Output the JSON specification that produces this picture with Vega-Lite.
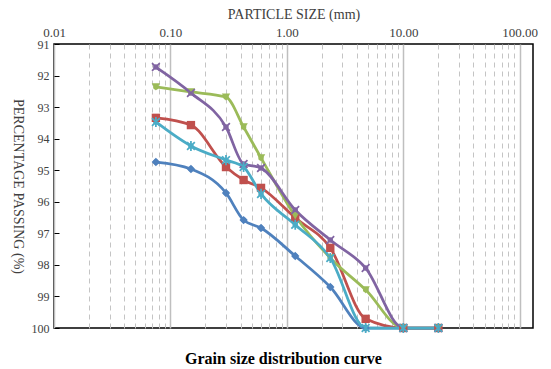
{
  "$schema": "https://vega.github.io/schema/vega-lite/v6.json",
  "width": 479,
  "height": 284,
  "autosize": {"type": "none"},
  "padding": {"left": 54, "top": 44, "right": 18, "bottom": 41},
  "background": "white",
  "config": {"view": {"stroke": "#000000", "strokeWidth": 1.5}, "font": "Liberation Serif"},
  "title": {"text": "Grain size distribution curve", "orient": "bottom", "font": "Liberation Serif", "fontSize": 16, "fontWeight": "bold", "color": "#000000", "offset": 14, "dx": -10},
  "data": {"values": [
    {"series": "S1", "size": 0.075, "pct": 94.74},
    {"series": "S1", "size": 0.15, "pct": 94.96},
    {"series": "S1", "size": 0.3, "pct": 95.72},
    {"series": "S1", "size": 0.425, "pct": 96.58},
    {"series": "S1", "size": 0.6, "pct": 96.83},
    {"series": "S1", "size": 1.18, "pct": 97.72},
    {"series": "S1", "size": 2.36, "pct": 98.7},
    {"series": "S1", "size": 4.75, "pct": 100},
    {"series": "S1", "size": 10, "pct": 100},
    {"series": "S1", "size": 20, "pct": 100},
    {"series": "S2", "size": 0.075, "pct": 93.34},
    {"series": "S2", "size": 0.15, "pct": 93.57},
    {"series": "S2", "size": 0.3, "pct": 94.9},
    {"series": "S2", "size": 0.425, "pct": 95.31},
    {"series": "S2", "size": 0.6, "pct": 95.56},
    {"series": "S2", "size": 1.18, "pct": 96.51},
    {"series": "S2", "size": 2.36, "pct": 97.46},
    {"series": "S2", "size": 4.75, "pct": 99.71},
    {"series": "S2", "size": 10, "pct": 100},
    {"series": "S2", "size": 20, "pct": 100},
    {"series": "S3", "size": 0.075, "pct": 92.36},
    {"series": "S3", "size": 0.15, "pct": 92.52},
    {"series": "S3", "size": 0.3, "pct": 92.68},
    {"series": "S3", "size": 0.425, "pct": 93.63},
    {"series": "S3", "size": 0.6, "pct": 94.61},
    {"series": "S3", "size": 1.18, "pct": 96.45},
    {"series": "S3", "size": 2.36, "pct": 97.78},
    {"series": "S3", "size": 4.75, "pct": 98.79},
    {"series": "S3", "size": 10, "pct": 100},
    {"series": "S3", "size": 20, "pct": 100},
    {"series": "S4", "size": 0.075, "pct": 91.73},
    {"series": "S4", "size": 0.15, "pct": 92.55},
    {"series": "S4", "size": 0.3, "pct": 93.63},
    {"series": "S4", "size": 0.425, "pct": 94.8},
    {"series": "S4", "size": 0.6, "pct": 94.93},
    {"series": "S4", "size": 1.18, "pct": 96.26},
    {"series": "S4", "size": 2.36, "pct": 97.21},
    {"series": "S4", "size": 4.75, "pct": 98.1},
    {"series": "S4", "size": 10, "pct": 100},
    {"series": "S4", "size": 20, "pct": 100},
    {"series": "S5", "size": 0.075, "pct": 93.47},
    {"series": "S5", "size": 0.15, "pct": 94.23},
    {"series": "S5", "size": 0.3, "pct": 94.68},
    {"series": "S5", "size": 0.425, "pct": 94.9},
    {"series": "S5", "size": 0.6, "pct": 95.75},
    {"series": "S5", "size": 1.18, "pct": 96.73},
    {"series": "S5", "size": 2.36, "pct": 97.78},
    {"series": "S5", "size": 4.75, "pct": 100},
    {"series": "S5", "size": 10, "pct": 100},
    {"series": "S5", "size": 20, "pct": 100}
  ]},
  "encoding": {
    "x": {
      "field": "size", "type": "quantitative",
      "scale": {"type": "log", "domain": [0.01, 130], "nice": false},
      "axis": {
        "orient": "top",
        "title": "PARTICLE SIZE (mm)",
        "values": [0.01, 0.02, 0.03, 0.04, 0.05, 0.06, 0.07, 0.08, 0.09, 0.1, 0.2, 0.3, 0.4, 0.5, 0.6, 0.7, 0.8, 0.9, 1, 2, 3, 4, 5, 6, 7, 8, 9, 10, 20, 30, 40, 50, 60, 70, 80, 90, 100],
        "labelExpr": "indexof([0.01, 0.1, 1, 10, 100], datum.value) >= 0 ? format(datum.value, '.2f') : ''",
        "labelOverlap": false,
        "labelBound": false,
        "labelFlush": false,
        "ticks": false,
        "domain": false,
        "grid": true,
        "gridColor": {"condition": {"test": "indexof([0.01, 0.1, 1, 10, 100], datum.value) >= 0", "value": "#bfbfbf"}, "value": "#c4c4c4"},
        "gridDash": {"condition": {"test": "indexof([0.01, 0.1, 1, 10, 100], datum.value) >= 0", "value": []}, "value": [5, 4]},
        "gridWidth": {"condition": {"test": "indexof([0.01, 0.1, 1, 10, 100], datum.value) >= 0", "value": 1.5}, "value": 1},
        "labelFont": "Liberation Serif", "labelFontSize": 13, "labelColor": "#404040", "labelPadding": 5,
        "titleFont": "Liberation Serif", "titleFontSize": 14, "titleFontWeight": "normal", "titleColor": "#404040", "titlePadding": 5
      }
    },
    "y": {
      "field": "pct", "type": "quantitative",
      "scale": {"domain": [91, 100], "reverse": true, "nice": false, "zero": false},
      "axis": {
        "title": "PERCENTAGE PASSING (%)",
        "values": [91, 92, 93, 94, 95, 96, 97, 98, 99, 100],
        "grid": false,
        "domain": false,
        "tickSize": -5,
        "tickColor": "#000000",
        "labelFont": "Liberation Serif", "labelFontSize": 12, "labelColor": "#404040", "labelPadding": 10,
        "titleFont": "Liberation Serif", "titleFontSize": 14, "titleFontWeight": "normal", "titleColor": "#404040",
        "titleAngle": 90, "titleX": -37, "titleY": 142, "titleAlign": "center", "titleBaseline": "middle"
      }
    },
    "color": {
      "field": "series", "type": "nominal",
      "scale": {"domain": ["S1", "S2", "S3", "S4", "S5"], "range": ["#4F81BD", "#C0504D", "#9BBB59", "#8064A2", "#4BACC6"]},
      "legend": null
    },
    "shape": {
      "field": "series", "type": "nominal",
      "scale": {"domain": ["S1", "S2", "S3", "S4", "S5"], "range": ["diamond", "square", "triangle-down", "M-1,-1L1,1M-1,1L1,-1", "M-1,-1L1,1M-1,1L1,-1M0,-1.3L0,1.3"]},
      "legend": null
    }
  },
  "layer": [
    {"mark": {"type": "line", "interpolate": "monotone", "strokeWidth": 2.75}, "encoding": {"shape": {"value": "circle"}}},
    {
      "transform": [{"filter": "indexof(['S1', 'S2', 'S3'], datum.series) >= 0"}],
      "mark": {"type": "point", "filled": true, "opacity": 1},
      "encoding": {"size": {"value": 70}}
    },
    {
      "transform": [{"filter": "indexof(['S4', 'S5'], datum.series) >= 0"}],
      "mark": {"type": "point", "filled": false, "opacity": 1, "strokeWidth": 1.75},
      "encoding": {"size": {"value": 60}}
    }
  ]
}
